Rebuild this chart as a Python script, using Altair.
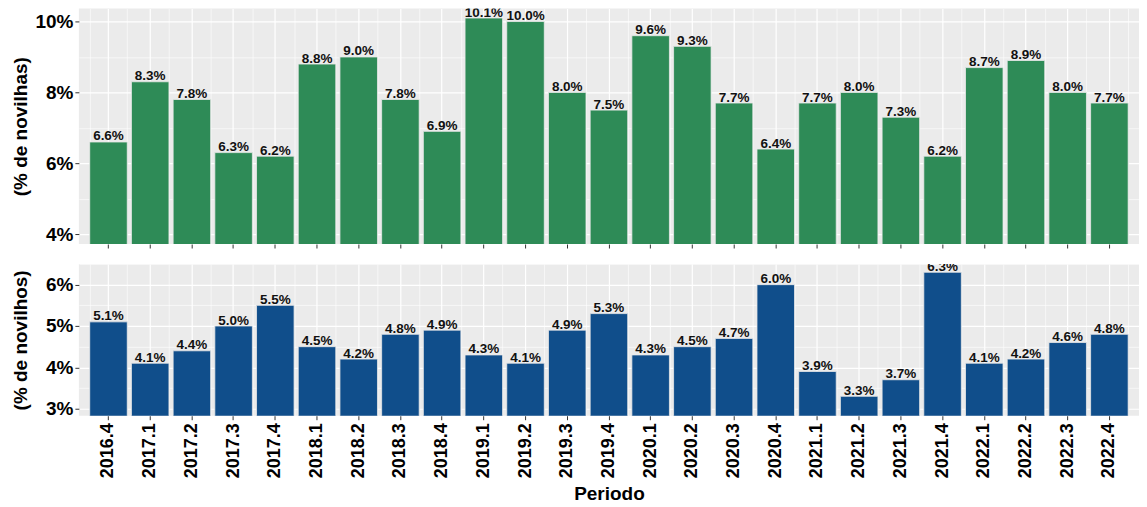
import altair as alt
import pandas as pd

periods = ["2016.4", "2017.1", "2017.2", "2017.3", "2017.4", "2018.1", "2018.2", "2018.3", "2018.4",
           "2019.1", "2019.2", "2019.3", "2019.4", "2020.1", "2020.2", "2020.3", "2020.4",
           "2021.1", "2021.2", "2021.3", "2021.4", "2022.1", "2022.2", "2022.3", "2022.4"]
novilhas = [6.6, 8.3, 7.8, 6.3, 6.2, 8.8, 9.0, 7.8, 6.9, 10.1, 10.0, 8.0, 7.5,
            9.6, 9.3, 7.7, 6.4, 7.7, 8.0, 7.3, 6.2, 8.7, 8.9, 8.0, 7.7]
novilhos = [5.1, 4.1, 4.4, 5.0, 5.5, 4.5, 4.2, 4.8, 4.9, 4.3, 4.1, 4.9, 5.3,
            4.3, 4.5, 4.7, 6.0, 3.9, 3.3, 3.7, 6.3, 4.1, 4.2, 4.6, 4.8]

FONT = "Liberation Sans"
W = 1062


def panel(values, color, ytitle, domain, major, minor, height, bottom):
    df = pd.DataFrame({"Periodo": periods, "v": values,
                       "label": [f"{v:.1f}%" for v in values]})
    xscale = alt.Scale(paddingInner=0.1, paddingOuter=0.26)
    yscale = alt.Scale(domain=domain, nice=False, zero=False)
    xaxis_main = alt.Axis(
        labels=bottom, ticks=True, tickSize=4, tickColor="#333333", domain=False,
        grid=True, gridColor="white", gridWidth=1.2,
        labelAngle=-90, labelFont=FONT, labelFontSize=18, labelFontWeight="bold",
        labelColor="black", labelPadding=3,
        title="Periodo" if bottom else None, titleFont=FONT, titleFontSize=19,
        titleFontWeight="bold", titleColor="black", titlePadding=7,
    )
    yaxis_main = alt.Axis(
        values=major, labelExpr="datum.value + '%'", ticks=True, tickSize=4,
        tickColor="#333333", domain=False, grid=True, gridColor="white", gridWidth=1.2,
        labelFont=FONT, labelFontSize=19, labelFontWeight="bold", labelColor="black",
        labelPadding=2, minExtent=44, maxExtent=44,
        title=ytitle, titleFont=FONT, titleFontSize=19, titleFontWeight="bold",
        titleColor="black", titlePadding=4,
    )
    bars = alt.Chart(df).mark_bar(color=color, stroke="#e8e8e8", strokeWidth=0.8, clip=True).encode(
        x=alt.X("Periodo:N", sort=periods, scale=xscale, axis=xaxis_main),
        y=alt.Y("v:Q", scale=yscale, axis=yaxis_main),
    )
    xaxis_minor = alt.Axis(orient="top", tickBand="extent", labels=False, ticks=False,
                           domain=False, grid=True, gridColor="white", gridWidth=0.6,
                           title=None, minExtent=0, maxExtent=0)
    yaxis_minor = alt.Axis(orient="right", values=minor, labels=False, ticks=False,
                           domain=False, grid=True, gridColor="white", gridWidth=0.6,
                           title=None, minExtent=0, maxExtent=0)
    text = alt.Chart(df).mark_text(
        clip=True, dy=-1.5, baseline="alphabetic", font=FONT, fontSize=13.5,
        fontWeight="bold", color="#111111",
    ).encode(
        x=alt.X("Periodo:N", sort=periods, scale=xscale, axis=xaxis_minor),
        y=alt.Y("v:Q", scale=yscale, axis=yaxis_minor),
        text="label:N",
    )
    return alt.layer(bars, text).resolve_axis(x="independent", y="independent").properties(
        width=W, height=height)


top = panel(novilhas, "#2E8B57", "(% de novilhas)", [3.72, 10.37], [4, 6, 8, 10], [5, 7, 9], 236, False)
bot = panel(novilhos, "#104E8B", "(% de novilhos)", [2.83, 6.5], [3, 4, 5, 6], [3.5, 4.5, 5.5, 6.5], 152, True)

chart = alt.vconcat(top, bot, spacing=15).properties(
    padding={"left": 4, "top": 0, "right": 0, "bottom": 0}).configure_view(
    fill="#EBEBEB", stroke=None)

chart.save("out.html", embed_options={"renderer": "svg", "actions": False})
